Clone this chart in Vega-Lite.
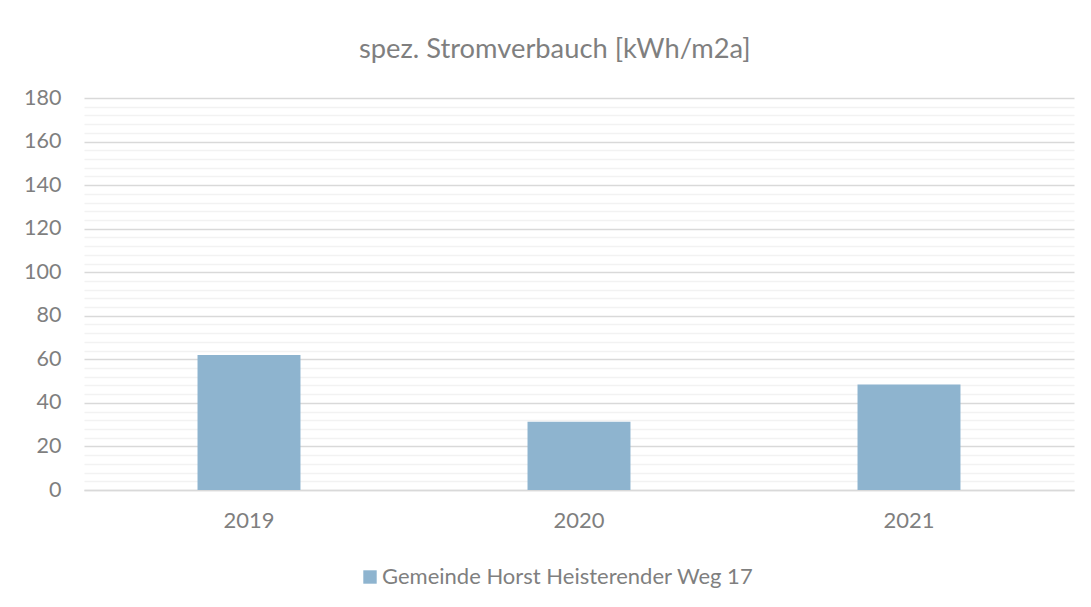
{
  "$schema": "https://vega.github.io/schema/vega-lite/v6.json",
  "autosize": {"type": "none"},
  "width": 990,
  "height": 392,
  "padding": {"left": 84, "top": 98, "right": 17, "bottom": 117},
  "background": "white",
  "title": {"text": "spez. Stromverbauch [kWh/m2a]", "anchor": "middle", "frame": "bounds", "fontSize": 27.3, "font": "Lato", "fontWeight": "normal", "color": "#7f7f7f", "offset": 24, "dx": 6},
  "data": {"values": [
    {"year": "2019", "value": 62.0, "series": "Gemeinde Horst Heisterender Weg 17"},
    {"year": "2020", "value": 31.3, "series": "Gemeinde Horst Heisterender Weg 17"},
    {"year": "2021", "value": 48.4, "series": "Gemeinde Horst Heisterender Weg 17"}
  ]},
  "mark": {"type": "bar"},
  "encoding": {
    "x": {"field": "year", "type": "nominal", "scale": {"paddingInner": 0.688, "paddingOuter": 0.344},
      "axis": {"title": null, "labelAngle": 0, "labelFontSize": 22, "labelFont": "Lato", "labelColor": "#7f7f7f", "labelPadding": 20, "ticks": false, "domainColor": "#d9d9d9", "domainWidth": 1.5}},
    "y": {"field": "value", "type": "quantitative", "scale": {"domain": [0, 180], "nice": false},
      "axis": {"title": null, "values": [0,4,8,12,16,20,24,28,32,36,40,44,48,52,56,60,64,68,72,76,80,84,88,92,96,100,104,108,112,116,120,124,128,132,136,140,144,148,152,156,160,164,168,172,176,180],
        "labelExpr": "datum.value % 20 === 0 ? datum.label : ''",
        "gridColor": {"condition": {"test": "datum.value % 20 === 0", "value": "#d9d9d9"}, "value": "#f2f2f2"},
        "gridWidth": 1.3,
        "labelFontSize": 21.5, "labelFont": "Lato", "labelColor": "#7f7f7f", "labelPadding": 23, "ticks": false, "domain": false}},
    "color": {"field": "series", "type": "nominal", "scale": {"range": ["#8eb4cf"]},
      "legend": {"title": null, "orient": "none", "legendX": 275, "legendY": 468, "direction": "horizontal", "labelFontSize": 22, "labelFont": "Lato", "labelColor": "#7f7f7f", "labelLimit": 0, "labelOffset": 1, "symbolType": "square", "symbolSize": 180, "symbolStrokeWidth": 0, "symbolOpacity": 1}}
  },
  "config": {"view": {"stroke": null}}
}
